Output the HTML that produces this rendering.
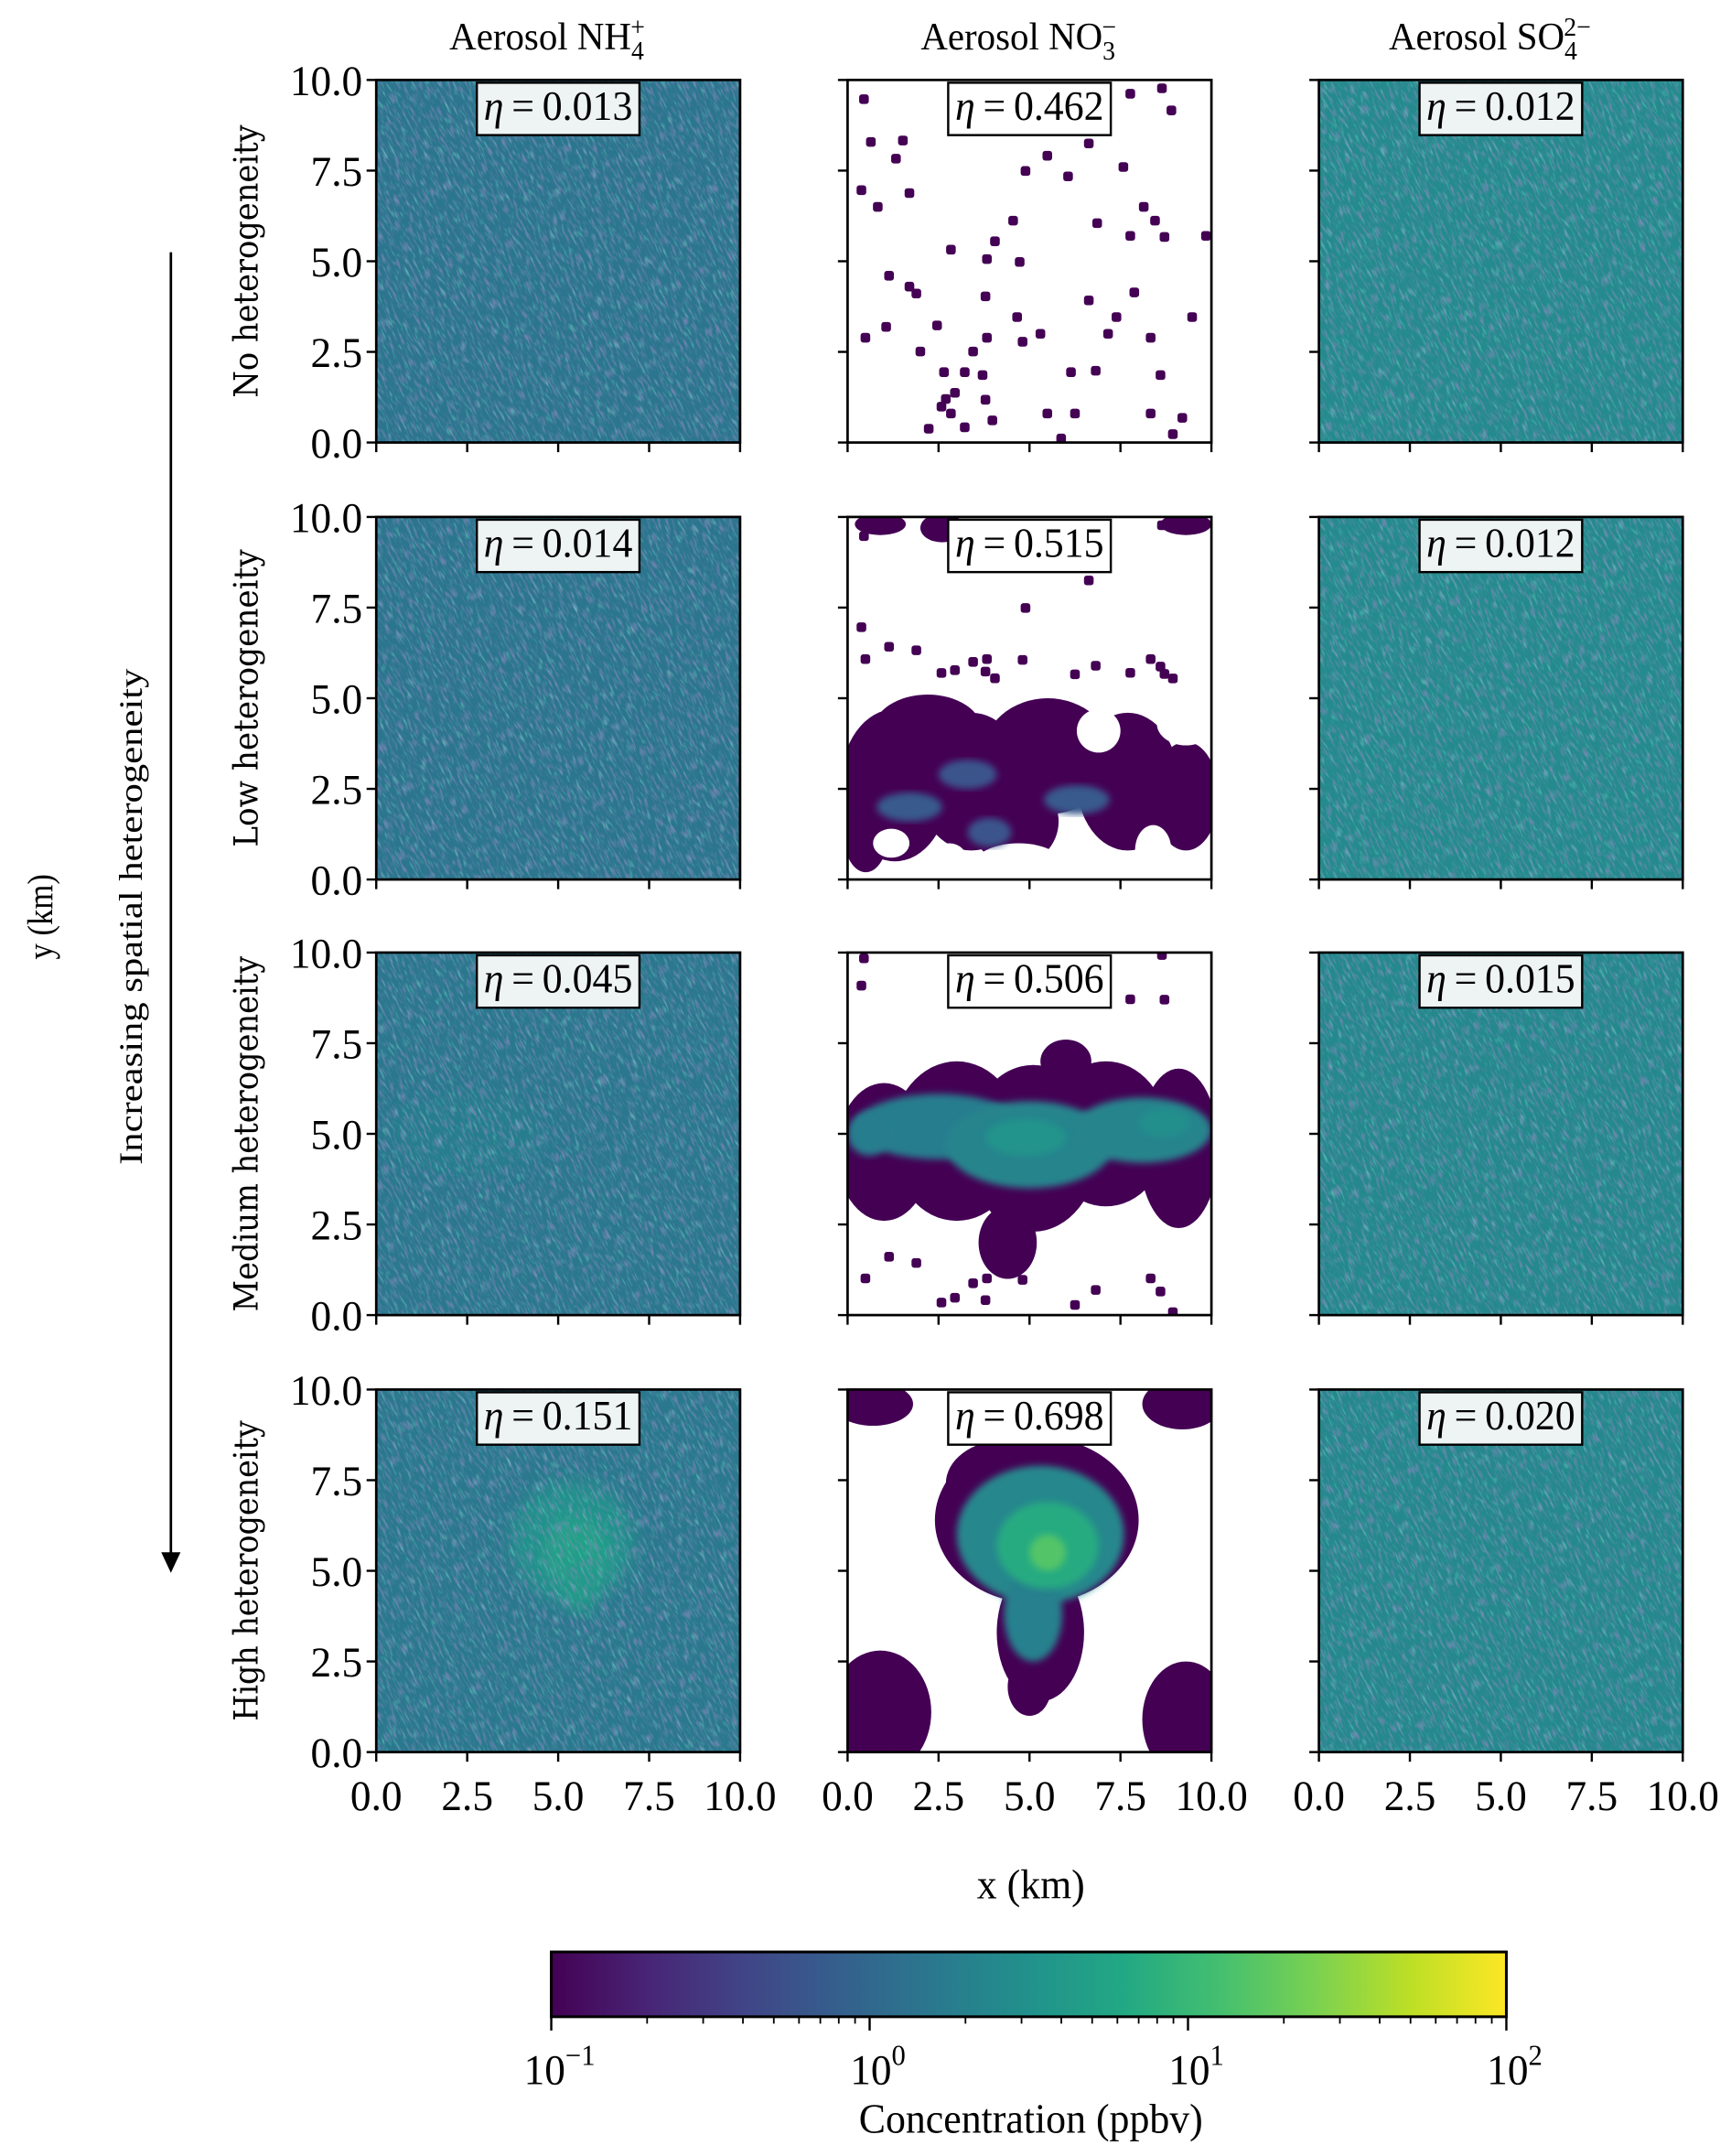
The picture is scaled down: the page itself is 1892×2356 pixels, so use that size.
<!DOCTYPE html>
<html><head><meta charset="utf-8"><style>
html,body{margin:0;padding:0;background:#fff;}
svg{display:block;}
</style></head><body>
<svg id="fig" xmlns="http://www.w3.org/2000/svg" width="1892" height="2356" viewBox="0 0 1256 1564">
<defs>
<linearGradient id="cbgrad" x1="0" x2="1" y1="0" y2="0">
<stop offset="0" stop-color="#440154"/><stop offset="0.1" stop-color="#482475"/><stop offset="0.2" stop-color="#414487"/><stop offset="0.3" stop-color="#355f8d"/><stop offset="0.4" stop-color="#2a788e"/><stop offset="0.5" stop-color="#21918c"/><stop offset="0.6" stop-color="#22a884"/><stop offset="0.7" stop-color="#44bf70"/><stop offset="0.8" stop-color="#7ad151"/><stop offset="0.9" stop-color="#bddf26"/><stop offset="1" stop-color="#fde725"/>
</linearGradient>
<filter id="noise" x="0" y="0" width="1" height="1">
<feTurbulence type="fractalNoise" baseFrequency="0.5 0.12" numOctaves="2" seed="4"/>
<feColorMatrix type="matrix" values="0 0 0 0 0.25  0 0 0 0 0.25  0 0 0 0 0.5  -2 0 0 0 1.05"/>
</filter>
<filter id="noise2" x="0" y="0" width="1" height="1">
<feTurbulence type="fractalNoise" baseFrequency="0.5 0.12" numOctaves="2" seed="9"/>
<feColorMatrix type="matrix" values="0 0 0 0 0.15  0 0 0 0 0.62  0 0 0 0 0.55  2 0 0 0 -1.15"/>
</filter>
<filter id="soft"><feGaussianBlur stdDeviation="6"/></filter>
<filter id="soft2"><feGaussianBlur stdDeviation="2.5"/></filter>
</defs>
<g id="root"></g>
</svg>
<script>
// ---- data ----
const colTitles = ["Aerosol NH", "Aerosol NO", "Aerosol SO"];
const colSubs = ["4", "3", "4"];
const colSups = ["+", "\u2212", "2\u2212"];
const rowLabels = ["No heterogeneity", "Low heterogeneity", "Medium heterogeneity", "High heterogeneity"];
const etaNH4 = [0.013, 0.014, 0.045, 0.151];
const etaNO3 = [0.462, 0.515, 0.506, 0.698];
const etaSO4 = [0.012, 0.012, 0.015, 0.020];
const baseNH4 = [1.45, 1.45, 1.55, 1.6];
const baseSO4 = [2.6, 2.6, 2.5, 2.5];
const axisTicks = [0, 2.5, 5, 7.5, 10];
const axisTickLabels = ["0.0", "2.5", "5.0", "7.5", "10.0"];
const cbDecades = [-1, 0, 1, 2];
const cbLabels = ["\u22121", "0", "1", "2"];
// NH4 enhancement blobs: [row, x, y, rx, ry, conc]
const nh4Blobs = [[2,2.5,5.0,2.2,1.2,1.8],[3,5.4,5.8,1.7,1.7,3.2],[3,5.5,5.5,0.9,1.0,5.0],[3,5.6,4.6,0.5,0.8,4.0]];
// NO3 row 1 scattered cells [x, y]
const no3DotsX = [0.45,0.64,1.52,0.38,0.83,1.7,0.49,1.06,1.7,1.89,2.46,2.65,2.58,2.84,2.23,2.95,3.22,3.71,3.83,3.98,4.55,4.89,5.49,6.06,6.63,6.86,7.58,7.77,8.14,8.45,8.71,7.88,7.39,6.82,6.14,7.16,6.25,5.87,5.3,4.81,4.66,3.83,4.05,2.84,2.0,3.45,5.49,6.63,8.33,9.47,9.85,8.6,9.2,8.33,8.94,5.61,7.77,8.64,8.9,1.33,1.14,3.79,3.22,3.79,4.73,2.7];
const no3DotsY = [9.47,8.29,8.33,6.96,6.5,6.88,2.89,3.19,4.3,4.11,3.23,1.94,0.99,0.8,0.38,1.37,0.42,1.86,2.89,0.61,6.12,7.49,7.91,7.34,8.25,6.05,7.6,5.7,6.5,6.12,5.67,4.14,3.46,1.98,1.94,3.0,0.8,0.11,3.0,2.78,3.46,5.06,5.55,5.32,2.51,2.51,0.8,3.92,2.89,3.46,5.7,1.86,0.68,0.8,0.23,9.05,9.62,9.77,9.16,7.83,4.6,4.03,1.94,1.18,4.98,1.2];
// NO3 plume blobs: [row, x, y, rx, ry, conc]  (conc 0 = empty/white)
const no3Blobs = [
 [1,1.3,2.6,1.5,2.1,0.1],[1,3.4,2.7,1.5,1.9,0.1],[1,5.5,3.4,1.8,1.6,0.1],[1,7.7,2.7,1.4,1.9,0.1],[1,9.3,2.3,0.9,1.5,0.1],[1,4.6,1.6,1.2,1.2,0.1],[1,2.2,4.1,1.5,1.0,0.1],[1,0.5,1.2,0.6,1.0,0.1],
 [1,6.9,4.1,0.6,0.6,0],[1,4.7,0.3,1.3,0.7,0],[1,8.4,0.8,0.5,0.7,0],[1,1.2,1.0,0.5,0.4,0],[1,2.8,0.5,0.5,0.5,0],[1,9.3,4.3,0.8,0.6,0],
 [1,1.7,2.0,0.9,0.4,0.7],[1,3.9,1.3,0.6,0.4,0.6],[1,6.3,2.2,0.9,0.4,0.7],[1,3.3,2.9,0.8,0.4,0.6],
 [1,0.9,9.8,0.7,0.3,0.1],[1,2.6,9.7,0.6,0.4,0.1],[1,9.3,9.8,0.7,0.3,0.1],
 [2,1.0,4.5,1.3,1.9,0.1],[2,3.0,4.8,1.8,2.2,0.1],[2,5.1,4.6,1.8,2.3,0.1],[2,7.1,5.0,1.7,2.0,0.1],[2,9.1,4.6,1.1,2.2,0.1],[2,4.4,2.0,0.8,1.0,0.1],[2,6.0,7.0,0.7,0.6,0.1],
 [2,2.5,5.2,2.3,0.9,1.8],[2,5.0,4.7,2.3,1.2,2.2],[2,8.1,5.1,1.9,0.9,2.2],[2,0.6,5.0,0.6,0.6,1.8],
 [2,4.9,4.9,1.1,0.5,3.5],[2,8.7,5.3,0.7,0.4,3.0],
 [3,0.9,1.1,1.4,1.7,0.1],[3,0.4,0.4,0.8,0.9,0.1],[3,9.3,0.9,1.2,1.6,0.1],[3,9.6,0.4,0.6,0.8,0.1],[3,0.7,9.6,1.1,0.6,0.1],[3,9.2,9.6,1.1,0.7,0.1],
 [3,5.2,6.4,2.8,2.3,0.1],[3,5.3,3.3,1.2,1.9,0.1],[3,4.3,7.4,1.6,1.2,0.1],[3,5.0,1.8,0.6,0.8,0.1],
 [3,5.3,6.0,2.3,1.9,2.4],[3,5.1,3.8,0.8,1.3,2.0],
 [3,5.5,5.7,1.4,1.2,7.0],[3,5.5,5.5,0.5,0.5,15]
];

// ---- helpers ----
const NS = "http://www.w3.org/2000/svg";
const root = document.getElementById("root");
const vir = ["#440154","#482475","#414487","#355f8d","#2a788e","#21918c","#22a884","#44bf70","#7ad151","#bddf26","#fde725"];
function hex(h){return [parseInt(h.substr(1,2),16),parseInt(h.substr(3,2),16),parseInt(h.substr(5,2),16)];}
function viridis(t){t=Math.max(0,Math.min(1,t));const f=t*10,i=Math.min(9,Math.floor(f)),u=f-i;const a=hex(vir[i]),b=hex(vir[i+1]);return "rgb("+a.map((v,k)=>Math.round(v+(b[k]-v)*u)).join(",")+")";}
function cmap(c){return viridis((Math.log10(c)+1)/3);}
function mk(tag,attrs,parent){const e=document.createElementNS(NS,tag);for(const k in attrs)e.setAttribute(k,attrs[k]);(parent||root).appendChild(e);return e;}
function txt(x,y,s,size,anchor,parent,family,sx){
  sx=sx||0.97;
  const e=mk("text",{x:x/sx,y:y,"font-size":size,"text-anchor":anchor||"middle",transform:"scale("+sx+",1)","font-family":family||"'Liberation Serif', serif",fill:"#000"},parent);
  e.textContent=s;return e;
}
const colX=[273,615,957], rowY=[58,375,691,1008], PW=264, PH=263;
function sx(c,v){return colX[c]+v/10*PW;}
function sy(r,v){return rowY[r]+PH-v/10*PH;}

// ---- panels ----
for(let r=0;r<4;r++){
  for(let c=0;c<3;c++){
    const g=mk("g",{});
    
    
    const cid="clip"+r+c;
    const cp=mk("clipPath",{id:cid},g); mk("rect",{x:colX[c],y:rowY[r],width:PW,height:PH},cp);
    const inner=mk("g",{"clip-path":"url(#"+cid+")"},g);
    if(c!==1){
      const base=c===0?baseNH4[r]:baseSO4[r];
      mk("rect",{x:colX[c],y:rowY[r],width:PW,height:PH,fill:cmap(base)},inner);
      if(c===0){
        nh4Blobs.filter(b=>b[0]===r).forEach(b=>{
          const e=mk("ellipse",{cx:sx(c,b[1]),cy:sy(r,b[2]),rx:b[3]/10*PW,ry:b[4]/10*PH,fill:cmap(b[5]),filter:"url(#soft)"},inner);
          
          
        });
      }
      const ng=mk("g",{transform:"rotate(-28 "+(colX[c]+PW/2)+" "+(rowY[r]+PH/2)+")"},inner);
      mk("rect",{x:colX[c]-80,y:rowY[r]-80,width:PW+160,height:PH+160,filter:"url(#noise)"},ng);
      mk("rect",{x:colX[c]-80,y:rowY[r]-80,width:PW+160,height:PH+160,filter:"url(#noise2)"},ng);
    } else {
      mk("rect",{x:colX[c],y:rowY[r],width:PW,height:PH,fill:"#fff"},inner);
      if(r===0||r===1||r===2){
        no3DotsX.forEach((x,i)=>{
          if(r>0 && i%3!==0) return;
          const y=r===0?no3DotsY[i]:(r===1?(no3DotsY[i]>5?no3DotsY[i]:no3DotsY[i]*0.2+5.5):(no3DotsY[i]<5?no3DotsY[i]*0.35:no3DotsY[i]*0.3+7));
          if(r>0 && y>9.3 && x>2 && x<7) return;
          const d=mk("rect",{x:sx(c,x)-3.5,y:sy(r,y)-3.5,width:7,height:7,rx:2,fill:cmap(0.1)},inner);
          
          
        });
      }
      no3Blobs.filter(b=>b[0]===r).forEach(b=>{
        const e=mk("ellipse",{cx:sx(c,b[1]),cy:sy(r,b[2]),rx:b[3]/10*PW,ry:b[4]/10*PH,fill:b[5]===0?"#fff":cmap(b[5])},inner);
        if(b[5]>0.5) e.setAttribute("filter","url(#soft2)");
        
        
      });
    }
    mk("rect",{x:colX[c],y:rowY[r],width:PW,height:PH,fill:"none",stroke:"#000","stroke-width":1.8},g);
    axisTicks.forEach((t,i)=>{
      mk("line",{x1:colX[c]-7,x2:colX[c],y1:sy(r,t),y2:sy(r,t),stroke:"#000","stroke-width":1.6},g);
      mk("line",{x1:sx(c,t),x2:sx(c,t),y1:rowY[r]+PH,y2:rowY[r]+PH+7,stroke:"#000","stroke-width":1.6},g);
      if(c===0){const l=txt(263,sy(r,t)+11,axisTickLabels[i],31,"end",g);}
      if(r===3){const l=txt(sx(c,t),1313,axisTickLabels[i],31,"middle",g);}
    });
    const eta=[etaNH4,etaNO3,etaSO4][c][r];
    const bx=colX[c]+PW/2;
    const box=mk("rect",{x:bx-59,y:rowY[r]+2,width:118,height:38,fill:c===1?"#ffffff":"#eef3f3",stroke:"#000","stroke-width":1.6},g);
    
    
    const et=txt(bx,rowY[r]+29,"",30,"middle",g);
    
    
    const ts=document.createElementNS(NS,"tspan");ts.setAttribute("font-style","italic");ts.textContent="\u03b7";et.appendChild(ts);
    et.appendChild(document.createTextNode("\u2009=\u2009"+eta.toFixed(3)));
  }
}
colTitles.forEach((s,i)=>{
  const t=txt(colX[i]+PW/2-8,36,s,28,"middle");
  
  
  const sub=document.createElementNS(NS,"tspan");sub.setAttribute("font-size","19");sub.setAttribute("dy","7");sub.textContent=colSubs[i];t.appendChild(sub);
  const sup=document.createElementNS(NS,"tspan");sup.setAttribute("font-size","19");sup.setAttribute("dy","-17");sup.setAttribute("dx",-10);sup.textContent=colSups[i];t.appendChild(sup);
});
rowLabels.forEach((s,r)=>{
  const cy=rowY[r]+PH/2;
  const t=mk("text",{x:0,y:0,"font-size":24,"text-anchor":"middle","font-family":"'DejaVu Serif', serif",transform:"translate(187 "+cy+") rotate(-90)",textLength:[198,216,258,218][r],lengthAdjust:"spacingAndGlyphs"});
  t.textContent=s;
  
  
});
const ar=mk("g",{});


mk("line",{x1:124,y1:183,x2:124,y2:1128,stroke:"#000","stroke-width":1.8},ar);
mk("polygon",{points:"117,1126 131,1126 124,1141",fill:"#000"},ar);
const inc=mk("text",{x:0,y:0,"font-size":24,"text-anchor":"middle","font-family":"'Liberation Serif', serif",transform:"translate(103 665) rotate(-90)",textLength:360,lengthAdjust:"spacingAndGlyphs"});
inc.textContent="Increasing spatial heterogeneity";


const yl=mk("text",{x:0,y:0,"font-size":26,"text-anchor":"middle","font-family":"'Liberation Serif', serif",transform:"translate(38 665) rotate(-90)",textLength:62,lengthAdjust:"spacingAndGlyphs"});
yl.textContent="y (km)";


const xl=txt(748,1377,"x (km)",30,"middle");


const cbx0=400,cbx1=1093,cby=1416,cbh=47;
const cb=mk("g",{});


mk("rect",{x:cbx0,y:cby,width:cbx1-cbx0,height:cbh,fill:"url(#cbgrad)",stroke:"#000","stroke-width":2},cb);
function cbX(v){return cbx0+(Math.log10(v)+1)/3*(cbx1-cbx0);}
cbDecades.forEach((d,i)=>{
  const x=cbX(Math.pow(10,d));
  mk("line",{x1:x,x2:x,y1:cby+cbh,y2:cby+cbh+10,stroke:"#000","stroke-width":1.6},cb);
  const t=txt(x+6,1512,"10",31,"middle",cb);
  
  
  const sp=document.createElementNS(NS,"tspan");sp.setAttribute("font-size","21");sp.setAttribute("dy","-14");sp.textContent=cbLabels[i];t.appendChild(sp);
  if(d<2) for(let m=2;m<10;m++){const xm=cbX(m*Math.pow(10,d));mk("line",{x1:xm,x2:xm,y1:cby+cbh,y2:cby+cbh+5,stroke:"#000","stroke-width":1.2},cb);}
});
const cbt=txt(748,1547,"Concentration (ppbv)",30,"middle",cb);


</script>
</body></html>
